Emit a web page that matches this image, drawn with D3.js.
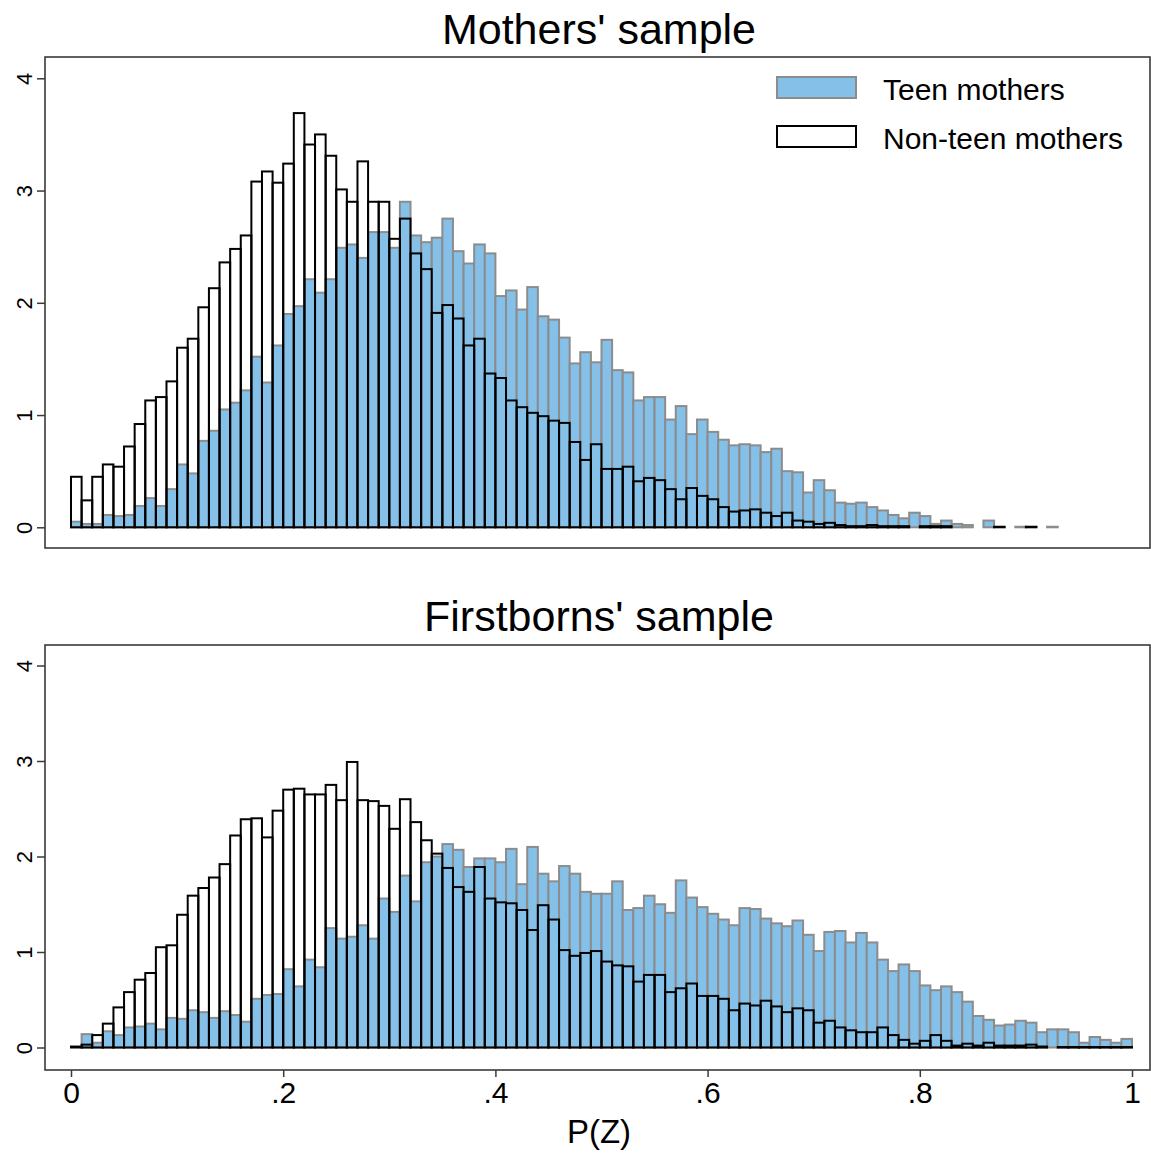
<!DOCTYPE html>
<html>
<head>
<meta charset="utf-8">
<script src="https://cdn.jsdelivr.net/npm/d3@7"></script>
<style>
  html, body { margin: 0; padding: 0; background: #fff; }
  svg { display: block; font-family: "Liberation Sans", Arial, Helvetica, sans-serif; }
</style>
</head>
<body>
<svg id="chart" width="1151" height="1154"></svg>
<script>
// ---- Data (density per bin of width 0.01, bins start at 0, .01, ..., .99) ----
const binWidth = 0.01;
const seriesNames = ["Teen mothers", "Non-teen mothers"];
const panelTitles = ["Mothers' sample", "Firstborns' sample"];
const xTickValues = [0, 0.2, 0.4, 0.6, 0.8, 1];
const xTickLabels = ["0", ".2", ".4", ".6", ".8", "1"];
const yTickValues = [0, 1, 2, 3, 4];
const xAxisTitle = "P(Z)";

const mothersTeen = [
  0.05, 0.03, 0.03, 0.11, 0.10, 0.11, 0.19, 0.26, 0.19, 0.34,
  0.56, 0.48, 0.77, 0.86, 1.05, 1.11, 1.22, 1.52, 1.29, 1.62,
  1.90, 1.97, 2.21, 2.09, 2.21, 2.49, 2.52, 2.40, 2.63, 2.63,
  2.49, 2.90, 2.60, 2.54, 2.58, 2.75, 2.46, 2.35, 2.52, 2.44,
  2.06, 2.11, 1.94, 2.14, 1.88, 1.85, 1.69, 1.46, 1.56, 1.47,
  1.67, 1.40, 1.38, 1.13, 1.16, 1.16, 0.96, 1.08, 0.83, 0.96,
  0.85, 0.78, 0.73, 0.74, 0.73, 0.67, 0.70, 0.50, 0.49, 0.31,
  0.42, 0.33, 0.22, 0.21, 0.22, 0.18, 0.15, 0.11, 0.08, 0.13,
  0.10, 0.03, 0.06, 0.03, 0.02, 0, 0.06, 0, 0, 0.005,
  0, 0, 0.005, 0, 0, 0, 0, 0, 0, 0
];
const mothersNonTeen = [
  0.45, 0.24, 0.45, 0.56, 0.54, 0.72, 0.92, 1.13, 1.16, 1.30,
  1.60, 1.68, 1.96, 2.13, 2.36, 2.48, 2.60, 3.08, 3.17, 3.07,
  3.24, 3.69, 3.41, 3.50, 3.31, 3.01, 2.90, 3.26, 2.90, 2.90,
  2.57, 2.75, 2.44, 2.30, 1.91, 1.98, 1.86, 1.62, 1.68, 1.37,
  1.33, 1.13, 1.07, 1.02, 0.99, 0.95, 0.93, 0.76, 0.60, 0.74,
  0.52, 0.52, 0.54, 0.41, 0.44, 0.42, 0.34, 0.25, 0.35, 0.28,
  0.25, 0.18, 0.14, 0.15, 0.16, 0.13, 0.10, 0.13, 0.06, 0.05,
  0.03, 0.04, 0.02, 0.01, 0.01, 0.02, 0.01, 0.01, 0.01, 0,
  0.01, 0.01, 0.01, 0, 0, 0, 0, 0.005, 0, 0,
  0.005, 0, 0, 0, 0, 0, 0, 0, 0, 0
];
const firstbornsTeen = [
  0, 0.14, 0.05, 0.17, 0.13, 0.21, 0.22, 0.25, 0.19, 0.31,
  0.30, 0.39, 0.37, 0.31, 0.38, 0.34, 0.27, 0.51, 0.55, 0.56,
  0.82, 0.64, 0.92, 0.84, 1.25, 1.14, 1.16, 1.28, 1.14, 1.56,
  1.42, 1.80, 1.53, 1.94, 2.00, 2.13, 2.07, 1.89, 1.98, 1.98,
  1.94, 2.08, 1.71, 2.10, 1.82, 1.74, 1.90, 1.82, 1.63, 1.61,
  1.61, 1.74, 1.44, 1.46, 1.59, 1.50, 1.41, 1.75, 1.57, 1.47,
  1.40, 1.34, 1.28, 1.46, 1.45, 1.35, 1.30, 1.27, 1.33, 1.18,
  1.01, 1.21, 1.22, 1.10, 1.20, 1.10, 0.92, 0.80, 0.87, 0.80,
  0.65, 0.60, 0.64, 0.58, 0.48, 0.33, 0.29, 0.23, 0.24, 0.28,
  0.26, 0.16, 0.19, 0.19, 0.16, 0.05, 0.11, 0.08, 0.05, 0.09
];
const firstbornsNonTeen = [
  0.01, 0.03, 0.13, 0.25, 0.42, 0.58, 0.71, 0.78, 1.05, 1.07,
  1.39, 1.59, 1.67, 1.78, 1.92, 2.22, 2.39, 2.40, 2.20, 2.48,
  2.70, 2.71, 2.65, 2.65, 2.75, 2.59, 2.99, 2.59, 2.58, 2.53,
  2.29, 2.60, 2.36, 2.17, 2.03, 1.88, 1.68, 1.63, 1.89, 1.56,
  1.52, 1.51, 1.44, 1.23, 1.49, 1.34, 1.02, 0.96, 0.99, 1.01,
  0.90, 0.86, 0.85, 0.69, 0.76, 0.76, 0.58, 0.62, 0.67, 0.54,
  0.54, 0.51, 0.39, 0.46, 0.44, 0.49, 0.43, 0.37, 0.41, 0.39,
  0.26, 0.28, 0.21, 0.18, 0.16, 0.16, 0.21, 0.13, 0.08, 0.04,
  0.07, 0.13, 0.07, 0.02, 0.04, 0.02, 0.05, 0.02, 0.02, 0.02,
  0.03, 0.01, 0, 0.005, 0.005, 0.005, 0.005, 0.005, 0.005, 0.005
];

// ---- Styles ----
const teenFill = "#85c0e9";
const teenStroke = "#8c8c8c";
const nonTeenStroke = "#000000";
const frameColor = "#3a3a3a";

const svg = d3.select("#chart");

const x = d3.scaleLinear().domain([0, 1]).range([71, 1132]);

const panels = [
  { title: panelTitles[0], teen: mothersTeen, nonTeen: mothersNonTeen,
    frame: { x0: 45, x1: 1150, y0: 57, y1: 548 }, titleY: 44,
    y: d3.scaleLinear().domain([0, 4]).range([527.3, 78.3]), legend: true, xaxis: false },
  { title: panelTitles[1], teen: firstbornsTeen, nonTeen: firstbornsNonTeen,
    frame: { x0: 45, x1: 1150, y0: 645, y1: 1070 }, titleY: 631,
    y: d3.scaleLinear().domain([0, 4]).range([1047.5, 665.5]), legend: false, xaxis: true }
];

panels.forEach(p => {
  const g = svg.append("g");
  // title
  g.append("text")
    .attr("x", 599).attr("y", p.titleY)
    .attr("text-anchor", "middle")
    .attr("font-size", 43)
    .attr("fill", "#000")
    .text(p.title);

  // frame
  g.append("rect")
    .attr("x", p.frame.x0).attr("y", p.frame.y0)
    .attr("width", p.frame.x1 - p.frame.x0)
    .attr("height", p.frame.y1 - p.frame.y0)
    .attr("fill", "none")
    .attr("stroke", frameColor)
    .attr("stroke-width", 1.6);

  // y axis
  const yAxis = d3.axisLeft(p.y).tickValues(yTickValues).tickSize(8).tickPadding(0).tickFormat(d3.format("d"));
  const ya = g.append("g").attr("transform", `translate(${p.frame.x0},0)`).call(yAxis);
  ya.select(".domain").remove();
  ya.selectAll(".tick line").attr("stroke", frameColor).attr("stroke-width", 1.5);
  ya.selectAll(".tick text")
    .attr("font-size", 22)
    .attr("fill", "#000")
    .attr("x", 0).attr("dy", 0)
    .attr("text-anchor", "middle")
    .attr("transform", `translate(-21,0) rotate(-90)`)
    .attr("dominant-baseline", "central")
    .style("font-family", "Liberation Sans, Arial, sans-serif");

  // teen bars
  const teenData = p.teen.map((v, i) => ({ x0: i * binWidth, v })).filter(d => d.v > 0);
  g.append("g").selectAll("rect").data(teenData).join("rect")
    .attr("x", d => x(d.x0))
    .attr("width", d => x(d.x0 + binWidth) - x(d.x0))
    .attr("y", d => p.y(d.v))
    .attr("height", d => p.y(0) - p.y(d.v))
    .attr("fill", teenFill)
    .attr("stroke", teenStroke)
    .attr("stroke-width", 2);

  // non-teen bars (outline only)
  const ntData = p.nonTeen.map((v, i) => ({ x0: i * binWidth, v })).filter(d => d.v > 0);
  g.append("g").selectAll("rect").data(ntData).join("rect")
    .attr("x", d => x(d.x0))
    .attr("width", d => x(d.x0 + binWidth) - x(d.x0))
    .attr("y", d => p.y(d.v))
    .attr("height", d => p.y(0) - p.y(d.v))
    .attr("fill", "none")
    .attr("stroke", nonTeenStroke)
    .attr("stroke-width", 2);

  if (p.legend) {
    const lg = g.append("g");
    const items = [
      { name: seriesNames[0], fill: teenFill, stroke: teenStroke, y: 77 },
      { name: seriesNames[1], fill: "#fff", stroke: nonTeenStroke, y: 126 }
    ];
    items.forEach(it => {
      lg.append("rect").attr("x", 777).attr("y", it.y).attr("width", 79).attr("height", 21)
        .attr("fill", it.fill).attr("stroke", it.stroke).attr("stroke-width", 2);
      lg.append("text").attr("x", 883).attr("y", it.y + 12)
        .attr("dominant-baseline", "central")
        .attr("font-size", 30).attr("fill", "#000").text(it.name);
    });
  }

  if (p.xaxis) {
    const xAxis = d3.axisBottom(x).tickValues(xTickValues).tickSize(7).tickPadding(5)
      .tickFormat((d, i) => xTickLabels[i]);
    const xa = g.append("g").attr("transform", `translate(0,${p.frame.y1})`).call(xAxis);
    xa.select(".domain").remove();
    xa.selectAll(".tick line").attr("stroke", frameColor).attr("stroke-width", 1.5);
    xa.selectAll(".tick text").attr("font-size", 30).attr("fill", "#000")
      .style("font-family", "Liberation Sans, Arial, sans-serif");
    g.append("text").attr("x", 599).attr("y", 1143)
      .attr("text-anchor", "middle").attr("font-size", 33).attr("fill", "#000")
      .text(xAxisTitle);
  }
});
</script>
</body>
</html>
